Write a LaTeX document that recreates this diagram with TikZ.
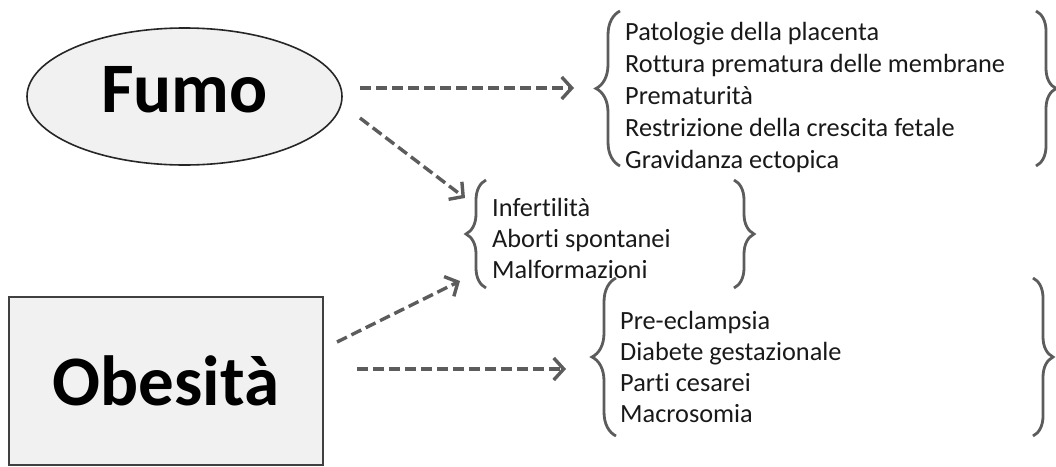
\documentclass[tikz,border=0pt]{standalone}
\usepackage{fontspec}
\setmainfont{Carlito}[Ligatures=NoCommon]
\usetikzlibrary{arrows.meta,decorations.pathreplacing,shapes.geometric}
\definecolor{linegray}{HTML}{5C5C5C}
\definecolor{causefill}{HTML}{F1F1F1}
\begin{document}
\begin{tikzpicture}[x=1pt,y=-1pt,
  cause/.style={fill=causefill, font=\fontsize{71}{80}\selectfont\bfseries, inner sep=0pt},
  effects/.style={anchor=base west, align=left, inner sep=0pt, text=black!90},
  link/.style={draw=linegray, line width=3.4pt, dash pattern=on 11pt off 5pt,
    -{Straight Barb[length=10pt,width=22pt]}},
  bracket/.style={draw=linegray, line width=2.8pt, decorate,
    decoration={brace, amplitude=#1}},
  bracket/.default=20pt]
\useasboundingbox (0,0) rectangle (1056,466);

% the two causes
\node[cause, ellipse, draw=black!85, line width=1.6pt, minimum width=315pt,
  minimum height=137pt, text depth=15pt] (fumo) at (184.5,96.5) {Fumo};
\node[cause, rectangle, draw=black!75, line width=2pt, minimum width=314pt,
  minimum height=168pt] (obesita) at (166,380.5) {Obesità};

% groups of effects (anchored at the baseline of their last line)
\node[effects, font=\fontsize{26.3}{32}\selectfont] (smoke) at (625,168)
  {Patologie della placenta\\Rottura prematura delle membrane\\Prematurità\\Restrizione della crescita fetale\\Gravidanza ectopica};
\node[effects, font=\fontsize{26.3}{31}\selectfont] (both) at (492,278)
  {Infertilità\\Aborti spontanei\\Malformazioni};
\node[effects, font=\fontsize{26.3}{31}\selectfont] (weight) at (620,422)
  {Pre-eclampsia\\Diabete gestazionale\\Parti cesarei\\Macrosomia};

% braces around each group
\draw[bracket=24pt] (620,166) -- (620,11);
\draw[bracket] (1036,11) -- (1036,166);
\draw[bracket] (486,288) -- (486,180);
\draw[bracket] (734,180) -- (734,288);
\draw[bracket=24pt] (616,436) -- (616,278);
\draw[bracket] (1033,278) -- (1033,436);

% arrow end points
\coordinate (fumoA) at (360,88);
\coordinate (smokeIn) at (574,88);
\coordinate (fumoB) at (360,118);
\coordinate (bothInA) at (465,198);
\coordinate (obesA) at (337,342);
\coordinate (bothInB) at (460,281);
\coordinate (obesB) at (357,369);
\coordinate (weightIn) at (566,369);

\draw[link] (fumoA) -- (smokeIn);
\draw[link] (fumoB) -- (bothInA);
\draw[link] (obesA) -- (bothInB);
\draw[link] (obesB) -- (weightIn);
\end{tikzpicture}
\end{document}
